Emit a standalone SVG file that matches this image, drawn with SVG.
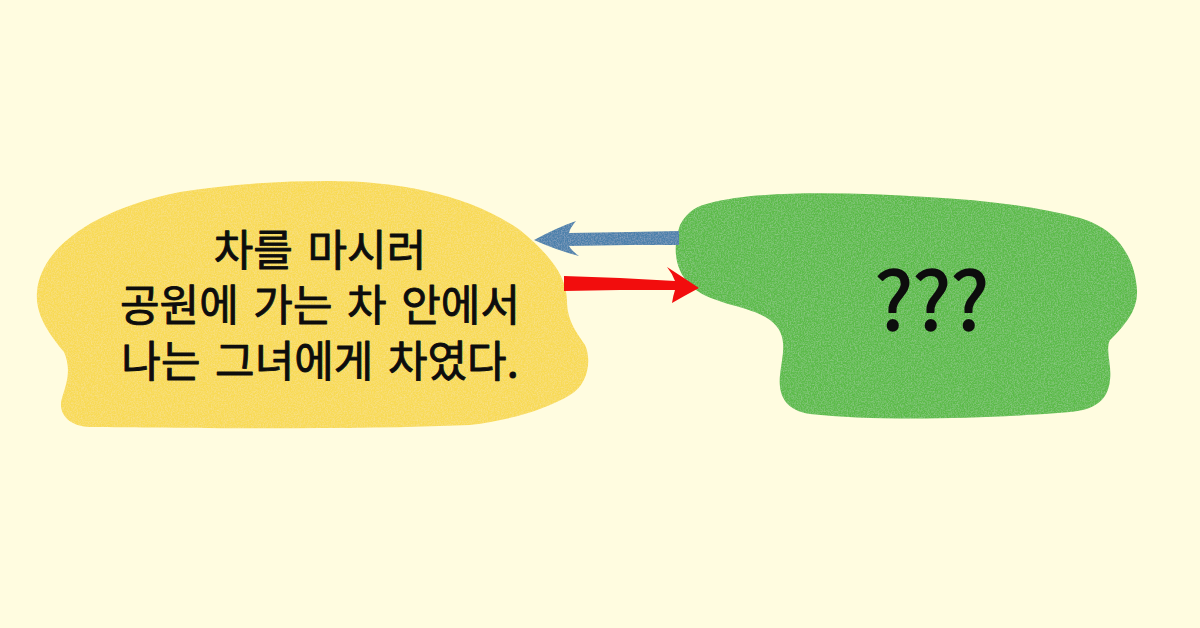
<svg xmlns="http://www.w3.org/2000/svg" width="1200" height="628" viewBox="0 0 1200 628">
  <style>
    .label { font-family: "Noto Sans CJK KR", "Noto Sans", sans-serif; font-weight: 400; fill: #0d0d0d; stroke: #0d0d0d; stroke-linejoin: round; text-anchor: middle; }
    .main { font-size: 43px; word-spacing: 5px; stroke-width: 0.9px; }
    .q { font-size: 80px; stroke-width: 1.6px; }
    .blob { filter: url(#paper); }
  </style>
  <defs>
    <filter id="paper" x="0" y="0" width="100%" height="100%">
      <feTurbulence type="fractalNoise" baseFrequency="0.7" numOctaves="3" seed="4" result="noise"/>
      <feColorMatrix in="noise" type="matrix" values="0 0 0 0 1  0 0 0 0 1  0 0 0 0 1  0.35 0 0 0 -0.13" result="light"/>
      <feComposite in="light" in2="SourceGraphic" operator="in" result="lightIn"/>
      <feMerge><feMergeNode in="SourceGraphic"/><feMergeNode in="lightIn"/></feMerge>
    </filter>
  </defs>
  <rect width="1200" height="628" fill="#FFFCE0"/>
  <g id="node-story">
    <path class="blob" fill="#F8DA55" d="M 329 181 C 400 181, 470 195, 520 230 C 550 255, 566 275, 567 300 C 567 320, 575 330, 585 345 C 592 360, 588 385, 570 395 C 545 410, 510 420, 470 425 C 350 430, 180 428, 90 427 C 65 426, 58 410, 62 398 C 66 385, 72 370, 64 352 C 50 335, 35 315, 37 292 C 40 250, 90 210, 180 192 C 230 184, 280 181, 329 181 Z"/>
    <text class="label main"><tspan x="320" y="266">차를 마시러</tspan><tspan x="320" y="321">공원에 가는 차 안에서</tspan><tspan x="320" y="377">나는 그녀에게 차였다.</tspan></text>
  </g>
  <g id="node-unknown">
    <path class="blob" fill="#5CBB4A" d="M 710 203 C 760 190, 850 192, 927 197 C 980 200, 1030 205, 1080 218 C 1120 230, 1135 260, 1137 290 C 1138 310, 1125 325, 1110 340 C 1105 350, 1112 365, 1110 380 C 1108 400, 1095 410, 1070 412 C 1000 418, 880 422, 810 414 C 785 410, 778 395, 780 375 C 782 355, 790 335, 770 320 C 750 305, 710 305, 690 285 C 675 270, 672 248, 680 225 C 688 210, 698 206, 710 203 Z"/>
    <text class="label q" x="932" y="330">???</text>
  </g>
  <g id="connectors">
    <path id="arrow-back" class="blob" fill="#4C80AB" d="M 534 240 Q 556 228, 576 221 Q 570 228, 569 233 L 630 232 L 679 231 L 679 245 L 630 245 L 569 246 Q 572 251, 579 256 Q 556 250, 534 240 Z"/>
    <path id="arrow-forward" fill="#F20D0D" d="M 564 276 L 620 278 L 675 281 Q 672 273, 667 267 Q 684 278, 699 288 Q 684 296, 672 303 Q 673 296, 675 290 L 620 290 L 564 291 Z"/>
  </g>
</svg>
